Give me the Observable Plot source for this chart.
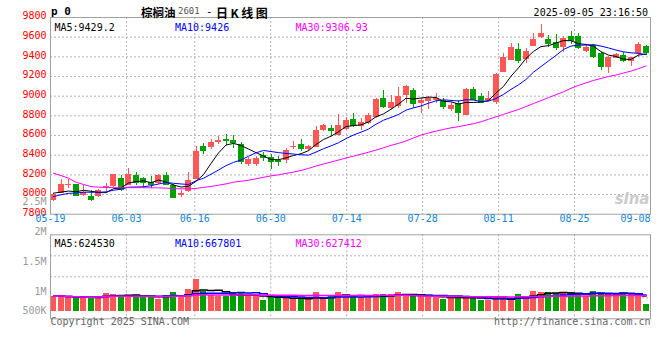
<!DOCTYPE html>
<html><head><meta charset="utf-8">
<script src="https://cdn.jsdelivr.net/npm/d3@7"></script>
<script src="https://cdn.jsdelivr.net/npm/@observablehq/plot@0.6"></script>
<style>
body{margin:0;background:#fff;}
#chart{position:relative;width:660px;height:360px;overflow:hidden;background:#fff;}
#chart svg{position:absolute;left:0;}
.t{position:absolute;white-space:nowrap;line-height:1;}
</style></head><body>
<div id="chart"></div>
<script>
// ---------------- data ----------------
const opens  = [7935,8014,8095,8100,7993,7985,7985,8075,8080,8160, 8095,8195,8165,8125,8110,8195,8090,7995,8030,8155,
                8490,8475,8530,8555,8550,8510,8305,8305,8400,8380, 8345,8345,8475,8510,8460,8480,8646,8670,8605,8660,
                8765,8693,8720,8787,8977,8877,8893,9010,9060,8927, 8943,8960,8960,8867,8927,8800,9067,9000,8960,8935,
                9245,9365,9470,9370,9508,9593,9576,9550,9492,9610, 9610,9455,9515,9437,9290,9386,9414,9356,9431,9505];
const highs  = [8010,8150,8150,8105,8090,8040,8055,8114,8200,8190, 8260,8220,8170,8185,8200,8225,8105,8045,8225,8490,
                8515,8557,8585,8612,8600,8525,8375,8390,8425,8405, 8390,8470,8535,8560,8500,8690,8710,8700,8810,8785,
                8820,8777,8820,8977,9060,9010,9087,9110,9077,8977, 9000,9027,8977,8933,8953,9077,9087,9027,9043,9235,
                9430,9540,9540,9480,9634,9730,9617,9627,9607,9654, 9635,9515,9530,9447,9400,9437,9447,9395,9550,9515];
const lows   = [7930,8010,8060,7985,7983,7925,7970,8028,8075,8030, 8090,8095,8060,8060,8105,8100,7955,7970,8020,8150,
                8405,8460,8510,8495,8465,8310,8290,8290,8340,8255, 8280,8320,8455,8440,8440,8475,8640,8595,8600,8655,
                8677,8655,8710,8777,8877,8860,8877,8927,8877,8827, 8867,8927,8867,8843,8743,8800,8953,8927,8943,8920,
                9240,9360,9335,9330,9505,9590,9500,9465,9447,9525, 9475,9447,9380,9260,9235,9380,9345,9305,9396,9410];
const closes = [8000,8102,8100,7995,8017,7952,8043,8085,8200,8055, 8200,8120,8120,8105,8190,8105,7965,8015,8145,8440,
                8448,8530,8552,8545,8525,8340,8355,8365,8380,8335, 8335,8445,8490,8470,8490,8650,8698,8655,8698,8755,
                8700,8733,8800,8967,8900,8933,8995,9100,8927,8953, 8977,8977,8900,8910,8833,9067,8967,8933,8977,9220,
                9397,9490,9358,9455,9576,9640,9540,9490,9583,9566, 9492,9498,9403,9305,9390,9420,9363,9390,9525,9445];
// closes of the sessions just before 05-19 (estimated from where MA5/MA10 start)
const closesBefore = [7930,7950,7960,7940,7950,8050,8045,8030,7945];
// MA30 of price
const ma30Price = [8217,8193,8166,8125,8102,8081,8075,8072,8070,8070, 8070,8070,8070,8068,8068,8065,8060,8058,8058,8062,
                   8072,8082,8095,8108,8125,8135,8145,8160,8175,8190, 8200,8215,8228,8245,8265,8290,8310,8330,8350,8372,
                   8390,8410,8430,8452,8475,8500,8520,8545,8575,8605, 8625,8645,8662,8678,8690,8705,8720,8740,8765,8790,
                   8815,8840,8865,8895,8925,8955,8985,9015,9045,9080, 9110,9135,9160,9180,9200,9215,9235,9255,9280,9307];
const volumes = [612,636,553,553,553,553,612,720,695,636, 636,653,553,636,487,636,778,553,903,1319,
                 832,636,612,612,720,720,612,636,445,612, 553,553,487,470,487,749,470,653,790,653,
                 553,553,553,695,695,695,749,612,695,612, 612,553,487,553,624,553,528,445,445,553,
                 553,445,695,612,820,790,778,720,720,749, 720,612,820,736,695,736,736,736,612,279].map(v => v * 1000);
const dateLabels = ["05-19","06-03","06-16","06-30","07-14","07-28","08-11","08-25","09-08"];
const dateIndex  = [0,10,19,29,39,49,59,69,79];
const priceTicks = [9800,9600,9400,9200,9000,8800,8600,8400,8200,8000,7800];
const volumeTickLabels = ["2.5M","2M","1.5M","1M","500K"];
const volumeTickValues = [2500000,2000000,1500000,1000000,500000];
const priceLegend  = ["MA5:9429.2","MA10:9426","MA30:9306.93"];
const volumeLegend = ["MA5:624530","MA10:667801","MA30:627412"];
const titleName = "棕榈油", titleCode = "2601", titleKind = "日K线图";
const stamp = "2025-09-05 23:16:50";
const symbolTag = "p 0";
const copyrightText = "Copyright 2025 SINA.COM";
const siteText = "http://finance.sina.com.cn";

// ---------------- styles ----------------
const MONO = "'DejaVu Sans Mono', monospace";
const RED = "#ff5656", GREEN = "#00a000";
const MA_COLORS = ["#000000", "#0000ff", "#ff00ff"];
const GRID = "#b4b4b4", BORDER = "#a0a0a0";

const N = closes.length;
const candles = closes.map((c, i) => ({i, o: opens[i], h: highs[i], l: lows[i], c, up: c >= opens[i]}));
const upC = candles.filter(d => d.up), dnC = candles.filter(d => !d.up);

function movingAverage(values, k, prior = []) {
  const all = prior.concat(values), off = prior.length;
  return values.map((_, i) => {
    const end = off + i + 1;
    return d3.mean(all.slice(Math.max(0, end - k), end));
  });
}
const ma5 = movingAverage(closes, 5, closesBefore);
const ma10 = movingAverage(closes, 10, closesBefore);
const priceMAs = [ma5, ma10, ma30Price];
const vma = [movingAverage(volumes, 5), movingAverage(volumes, 10), movingAverage(volumes, 30)];

const gridPos = idx => idx * N / (N - 1);
const dateTicks = dateIndex.map((idx, k) => ({x: gridPos(idx), label: dateLabels[k], k}));
const innerGridX = dateTicks.filter(d => d.x > 0 && d.x < N).map(d => d.x);
const BW = 0.8, MID = 0.4;

// ---------------- price panel ----------------
const PH = 228, pTop = 17, pBottom = 213.7;
const legendMarks = (items, dy) => items.map((s, k) => Plot.text([s], {
  frameAnchor: "top-left", dx: 4 + k * 120.5, dy, text: d => d, textAnchor: "start",
  fill: MA_COLORS[k], fontFamily: MONO, fontSize: 10
}));

const price = Plot.plot({
  width: 660, height: PH,
  marginLeft: 50, marginRight: 10, marginTop: pTop, marginBottom: PH - pBottom,
  x: {domain: [0, N], axis: null},
  y: {domain: [7800, 9800], axis: null},
  style: {background: "transparent", overflow: "visible"},
  marks: [
    Plot.ruleY(priceTicks.slice(1, -1), {stroke: GRID, strokeDasharray: "2,2"}),
    Plot.ruleX(innerGridX, {stroke: GRID, strokeDasharray: "2,2"}),
    Plot.text(["sina"], {frameAnchor: "bottom-right", dx: -1, dy: -10, text: d => d, fill: "#cccccc",
      textAnchor: "end", fontSize: 15, fontWeight: "bold", fontStyle: "italic", fontFamily: "Verdana, 'DejaVu Sans', sans-serif"}),
    Plot.ruleX(upC, {x: d => d.i + MID, y1: "l", y2: "h", stroke: RED, shapeRendering: "crispEdges"}),
    Plot.ruleX(dnC, {x: d => d.i + MID, y1: "l", y2: "h", stroke: GREEN, shapeRendering: "crispEdges"}),
    Plot.ruleY(upC, {y: "c", x1: "i", x2: d => d.i + BW, stroke: RED, shapeRendering: "crispEdges"}),
    Plot.ruleY(dnC, {y: "c", x1: "i", x2: d => d.i + BW, stroke: GREEN, shapeRendering: "crispEdges"}),
    Plot.rect(upC, {x1: "i", x2: d => d.i + BW, y1: "o", y2: "c", fill: RED, shapeRendering: "crispEdges"}),
    Plot.rect(dnC, {x1: "i", x2: d => d.i + BW, y1: "o", y2: "c", fill: GREEN, shapeRendering: "crispEdges"}),
    ...priceMAs.map((arr, k) => Plot.line(arr, {x: (d, i) => i + MID, y: d => d, stroke: MA_COLORS[k], strokeWidth: 1})),
    Plot.frame({stroke: BORDER}),
    ...legendMarks(priceLegend, 6.3),
    Plot.text(priceTicks, {y: d => d, frameAnchor: "left", dx: -4, dy: -1.5, text: d => String(d),
      textAnchor: "end", fill: "#ff0000", fontFamily: MONO, fontSize: 10}),
    Plot.text(dateTicks.filter(d => d.k < dateTicks.length - 1), {x: "x", text: "label", frameAnchor: "bottom",
      dy: 7.5, fill: "#1586d6", fontFamily: MONO, fontSize: 10}),
    Plot.text(dateTicks.filter(d => d.k === dateTicks.length - 1), {x: "x", text: "label", frameAnchor: "bottom",
      dy: 7.5, textAnchor: "end", fill: "#1586d6", fontFamily: MONO, fontSize: 10})
  ]
});
price.style.top = "0px";

// ---------------- volume panel ----------------
const VT = 190, VH = 170;
const vTop = 234.3, vBottom = 318.3, vBase = 310.5, volPerPx = 41600;
const vLo = -(vBottom - vBase) * volPerPx, vHi = (vBase - vTop) * volPerPx;
const pxToVol = px => vLo + (vBottom - px) / (vBottom - vTop) * (vHi - vLo);
const labelPx = d3.scaleLinear().domain([500000, 1000000, 2500000]).range([310, 291, 200.8]);
const bars = volumes.map((v, i) => ({i, v, up: candles[i].up}));
const volGrid = [0.25, 0.5, 0.75].map(f => vLo + f * (vHi - vLo));

const volume = Plot.plot({
  width: 660, height: VH,
  marginLeft: 50, marginRight: 10, marginTop: vTop - VT, marginBottom: VT + VH - vBottom,
  x: {domain: [0, N], axis: null},
  y: {domain: [vLo, vHi], axis: null},
  style: {background: "transparent", overflow: "visible"},
  marks: [
    Plot.ruleY(volGrid, {stroke: GRID, strokeDasharray: "2,2"}),
    Plot.ruleX(innerGridX, {stroke: GRID, strokeDasharray: "2,2"}),
    Plot.rect(bars.filter(d => d.up), {x1: "i", x2: d => d.i + BW, y1: () => 0, y2: "v", fill: RED, shapeRendering: "crispEdges"}),
    Plot.rect(bars.filter(d => !d.up), {x1: "i", x2: d => d.i + BW, y1: () => 0, y2: "v", fill: GREEN, shapeRendering: "crispEdges"}),
    ...vma.map((arr, k) => Plot.line(arr, {x: (d, i) => i + MID, y: d => d, stroke: MA_COLORS[k], strokeWidth: 1.5, curve: "step"})),
    Plot.frame({stroke: BORDER}),
    ...legendMarks(volumeLegend, 4.7),
    Plot.text(volumeTickValues, {y: v => pxToVol(labelPx(v)), frameAnchor: "left", dx: -4, text: (d, i) => volumeTickLabels[i],
      textAnchor: "end", fill: "#9a9a9a", fontFamily: MONO, fontSize: 10}),
    Plot.text([copyrightText], {frameAnchor: "bottom-left", dy: 5.7, text: d => d, textAnchor: "start",
      fill: "#666", fontFamily: MONO, fontSize: 10}),
    Plot.text([siteText], {frameAnchor: "bottom-right", dy: 5.7, text: d => d, textAnchor: "end",
      fill: "#666", fontFamily: MONO, fontSize: 10})
  ]
});
volume.style.top = VT + "px";

const chart = document.getElementById("chart");
chart.appendChild(price);
chart.appendChild(volume);

// ---------------- title row ----------------
function span(text, css) {
  const s = document.createElement("span");
  s.className = "t"; s.textContent = text; s.style.cssText += css;
  chart.appendChild(s);
}
span(symbolTag, `left:51px;top:5px;font:bold 11px ${MONO};color:#000;`);
span(titleName, `left:141px;top:4px;font:bold 11.5px 'Noto Sans CJK SC',sans-serif;color:#000;`);
span(titleCode, `left:178px;top:6px;font:9px ${MONO};color:#555;`);
span("-", `left:206px;top:5px;font:11px ${MONO};color:#000;`);
span(titleKind, `left:216px;top:4px;font:bold 12px 'Noto Sans CJK SC',sans-serif;color:#000;letter-spacing:2.5px;`);
span(stamp, `right:12px;top:7px;font:10px ${MONO};color:#000;`);
</script>
</body></html>
